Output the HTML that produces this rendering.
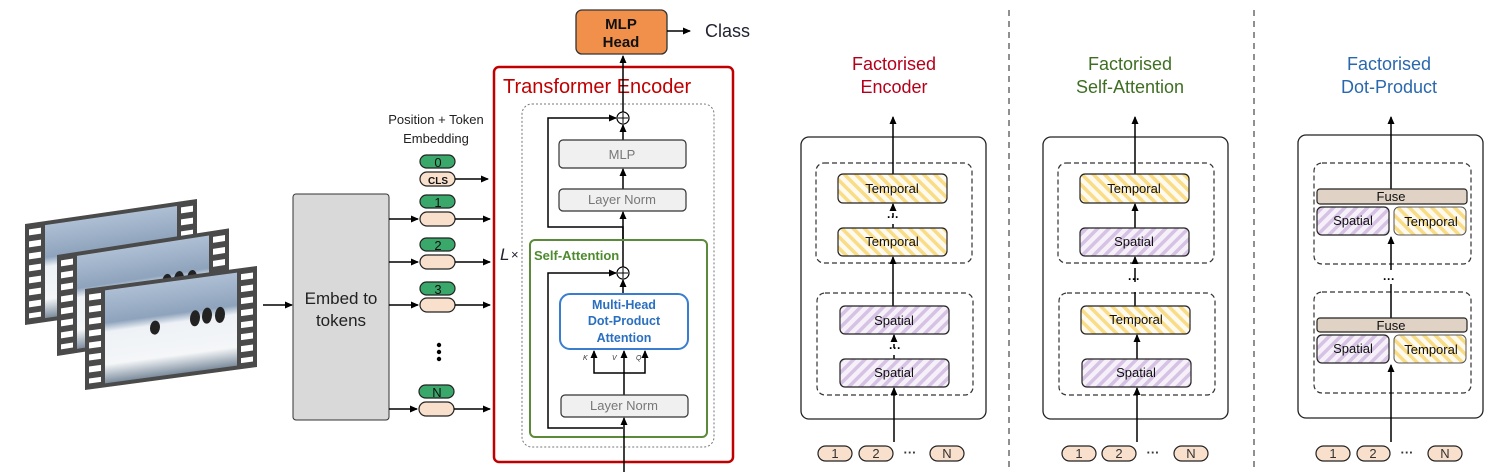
<!DOCTYPE html>
<html><head><meta charset="utf-8"><style>html,body{margin:0;padding:0;background:#fff}svg{display:block}text{font-family:"Liberation Sans",sans-serif}</style></head>
<body>
<svg width="1511" height="472" viewBox="0 0 1511 472" xmlns="http://www.w3.org/2000/svg">
<defs>
<marker id="a" markerWidth="8" markerHeight="8" refX="7" refY="4" orient="auto" markerUnits="userSpaceOnUse"><path d="M0,0.5 L8,4 L0,7.5 z" fill="#000"/></marker>
<pattern id="py" width="8" height="8" patternUnits="userSpaceOnUse" patternTransform="rotate(-45)"><rect width="8" height="8" fill="#fffaf0"/><rect width="3.5" height="8" fill="#f9dc86"/></pattern>
<pattern id="pp" width="8" height="8" patternUnits="userSpaceOnUse" patternTransform="rotate(45)"><rect width="8" height="8" fill="#f6f1f8"/><rect width="3.5" height="8" fill="#d6c2e4"/></pattern>
<linearGradient id="sky" x1="0" y1="0" x2="0" y2="1"><stop offset="0" stop-color="#aebfd4"/><stop offset="0.35" stop-color="#8ea3bc"/><stop offset="0.45" stop-color="#eef2f6"/><stop offset="0.8" stop-color="#f4f6f8"/><stop offset="1" stop-color="#7d8d9e"/></linearGradient>
<g id="film">
<rect x="0" y="0" width="172" height="101" fill="#4a4a4a"/>
<rect x="20" y="4" width="132" height="93" fill="url(#sky)"/>
<g fill="#fff">
<rect x="4" y="6" width="12" height="6"/><rect x="4" y="18" width="12" height="6"/><rect x="4" y="30" width="12" height="6"/><rect x="4" y="42" width="12" height="6"/><rect x="4" y="54" width="12" height="6"/><rect x="4" y="66" width="12" height="6"/><rect x="4" y="78" width="12" height="6"/><rect x="4" y="90" width="12" height="5"/>
<rect x="156" y="6" width="12" height="6"/><rect x="156" y="18" width="12" height="6"/><rect x="156" y="30" width="12" height="6"/><rect x="156" y="42" width="12" height="6"/><rect x="156" y="54" width="12" height="6"/><rect x="156" y="66" width="12" height="6"/><rect x="156" y="78" width="12" height="6"/><rect x="156" y="90" width="12" height="5"/>
</g>
<g fill="#222"><ellipse cx="70" cy="48" rx="5" ry="7"/><ellipse cx="110" cy="44" rx="5" ry="8"/><ellipse cx="122" cy="43" rx="5" ry="8"/><ellipse cx="135" cy="44" rx="5" ry="8"/></g>
</g>
</defs>

<use href="#film" transform="matrix(1,-0.145,0,1,25,224)"/>
<use href="#film" transform="matrix(1,-0.155,0,1,57,255)"/>
<use href="#film" transform="matrix(1,-0.134,0,1,85,289)"/>

<line x1="263" y1="305" x2="292" y2="305" stroke="#000" stroke-width="1.6" marker-end="url(#a)"/>
<rect x="293" y="194" width="96" height="226" rx="3" fill="#d9d9d9" stroke="#333" stroke-width="1"/>
<text x="341" y="304" font-size="17" text-anchor="middle" fill="#222">Embed to</text>
<text x="341" y="326" font-size="17" text-anchor="middle" fill="#222">tokens</text>

<text x="436" y="124" font-size="13" text-anchor="middle" fill="#222">Position + Token</text>
<text x="436" y="143" font-size="13" text-anchor="middle" fill="#222">Embedding</text>

<g stroke="#222" stroke-width="1.2">
<rect x="420" y="155" width="35" height="13" rx="6.5" fill="#3aa86a"/>
<rect x="420" y="172" width="35" height="14" rx="7" fill="#f9e0cc"/>
<rect x="420" y="195" width="35" height="13" rx="6.5" fill="#3aa86a"/>
<rect x="420" y="212" width="35" height="14" rx="7" fill="#f9e0cc"/>
<rect x="420" y="238" width="35" height="13" rx="6.5" fill="#3aa86a"/>
<rect x="420" y="255" width="35" height="14" rx="7" fill="#f9e0cc"/>
<rect x="420" y="282" width="35" height="13" rx="6.5" fill="#3aa86a"/>
<rect x="420" y="298" width="35" height="14" rx="7" fill="#f9e0cc"/>
<rect x="419" y="385" width="35" height="13" rx="6.5" fill="#3aa86a"/>
<rect x="419" y="402" width="35" height="14" rx="7" fill="#f9e0cc"/>
</g>
<g font-size="13" text-anchor="middle" fill="#111">
<text x="438" y="167">0</text><text x="438" y="207">1</text><text x="438" y="250">2</text><text x="438" y="294">3</text><text x="437" y="397">N</text>
<text x="438" y="184" font-size="10" font-weight="bold">CLS</text>
</g>
<g stroke="#000" stroke-width="1.5" marker-end="url(#a)">
<line x1="455" y1="179" x2="488" y2="179"/>
<line x1="389" y1="219" x2="418" y2="219"/><line x1="455" y1="219" x2="490" y2="219"/>
<line x1="389" y1="262" x2="418" y2="262"/><line x1="455" y1="262" x2="490" y2="262"/>
<line x1="389" y1="305" x2="418" y2="305"/><line x1="455" y1="305" x2="490" y2="305"/>
<line x1="389" y1="409" x2="417" y2="409"/><line x1="454" y1="409" x2="490" y2="409"/>
</g>
<g fill="#000"><circle cx="439" cy="345" r="2.2"/><circle cx="439" cy="352" r="2.2"/><circle cx="439" cy="359" r="2.2"/></g>

<rect x="576" y="10" width="91" height="44" rx="6" fill="#f0904b" stroke="#333" stroke-width="1.3"/>
<text x="621" y="29" font-size="15" font-weight="bold" text-anchor="middle" fill="#111">MLP</text>
<text x="621" y="47" font-size="15" font-weight="bold" text-anchor="middle" fill="#111">Head</text>
<line x1="667" y1="31" x2="690" y2="31" stroke="#000" stroke-width="1.5" marker-end="url(#a)"/>
<text x="705" y="37" font-size="18" fill="#223">Class</text>

<rect x="494" y="67" width="239" height="395" rx="5" fill="none" stroke="#c00000" stroke-width="2.5"/>
<text x="503" y="93" font-size="20" fill="#c00000">Transformer  Encoder</text>
<rect x="522" y="104" width="192" height="343" rx="10" fill="none" stroke="#777" stroke-width="1" stroke-dasharray="2,2"/>
<text x="500" y="260" font-size="17" font-style="italic" fill="#223">L</text><text x="511" y="259" font-size="13" fill="#223">×</text>

<line x1="623" y1="112" x2="623" y2="56" stroke="#000" stroke-width="1.5" marker-end="url(#a)"/>
<circle cx="623" cy="118" r="6" fill="#fff" stroke="#000" stroke-width="1.2"/>
<path d="M618,118h10M623,113v10" stroke="#000" stroke-width="1"/>
<polyline points="623,240 623,227 548,227 548,118 616,118" fill="none" stroke="#000" stroke-width="1.5" marker-end="url(#a)"/>
<line x1="623" y1="140" x2="623" y2="125" stroke="#000" stroke-width="1.5" marker-end="url(#a)"/>
<rect x="559" y="140" width="127" height="28" rx="4" fill="#f0f0f0" stroke="#333" stroke-width="1.2"/>
<text x="622" y="159" font-size="13" text-anchor="middle" fill="#777">MLP</text>
<line x1="623" y1="189" x2="623" y2="169" stroke="#000" stroke-width="1.5" marker-end="url(#a)"/>
<rect x="559" y="189" width="127" height="22" rx="4" fill="#f0f0f0" stroke="#333" stroke-width="1.2"/>
<text x="622" y="204" font-size="13" text-anchor="middle" fill="#777">Layer Norm</text>
<line x1="623" y1="267" x2="623" y2="212" stroke="#000" stroke-width="1.5" marker-end="url(#a)"/>

<rect x="530" y="240" width="177" height="197" rx="5" fill="none" stroke="#5a8a3a" stroke-width="2"/>
<text x="534" y="260" font-size="13" font-weight="bold" fill="#4e8a2e">Self-Attention</text>
<circle cx="623" cy="273" r="6" fill="#fff" stroke="#000" stroke-width="1.2"/>
<path d="M618,273h10M623,268v10" stroke="#000" stroke-width="1"/>
<polyline points="623,428 548,428 548,273 616,273" fill="none" stroke="#000" stroke-width="1.5" marker-end="url(#a)"/>
<line x1="623" y1="294" x2="623" y2="280" stroke="#000" stroke-width="1.5" marker-end="url(#a)"/>
<rect x="560" y="294" width="128" height="55" rx="10" fill="#fff" stroke="#3a7dd0" stroke-width="2"/>
<g font-size="12.5" font-weight="bold" text-anchor="middle" fill="#2a6fc0">
<text x="624" y="309">Multi-Head</text><text x="624" y="325">Dot-Product</text><text x="624" y="342">Attention</text></g>
<polyline points="624,395 624,373 594,373 594,351" fill="none" stroke="#000" stroke-width="1.5" marker-end="url(#a)"/>
<polyline points="624,373 645,373 645,351" fill="none" stroke="#000" stroke-width="1.5" marker-end="url(#a)"/>
<line x1="624" y1="373" x2="624" y2="351" stroke="#000" stroke-width="1.5" marker-end="url(#a)"/>
<g font-size="7" font-style="italic" fill="#333"><text x="583" y="360">K</text><text x="612" y="360">V</text><text x="636" y="360">Q</text></g>
<rect x="561" y="395" width="127" height="22" rx="4" fill="#f0f0f0" stroke="#333" stroke-width="1.2"/>
<text x="624" y="410" font-size="13" text-anchor="middle" fill="#777">Layer Norm</text>
<line x1="624" y1="472" x2="624" y2="418" stroke="#000" stroke-width="1.5" marker-end="url(#a)"/>

<line x1="1009" y1="10" x2="1009" y2="472" stroke="#555" stroke-width="1.3" stroke-dasharray="6,5"/>
<line x1="1254" y1="10" x2="1254" y2="472" stroke="#555" stroke-width="1.3" stroke-dasharray="6,5"/>

<g font-size="18" text-anchor="middle">
<text x="894" y="70" fill="#b3001b">Factorised</text><text x="894" y="93" fill="#b3001b">Encoder</text>
<text x="1130" y="70" fill="#3f6e23">Factorised</text><text x="1130" y="93" fill="#3f6e23">Self-Attention</text>
<text x="1389" y="70" fill="#2a68ad">Factorised</text><text x="1389" y="93" fill="#2a68ad">Dot-Product</text>
</g>

<rect x="801" y="137" width="185" height="282" rx="8" fill="none" stroke="#222" stroke-width="1.3"/>
<rect x="816" y="163" width="156" height="100" rx="8" fill="none" stroke="#333" stroke-width="1.2" stroke-dasharray="5,3"/>
<rect x="817" y="293" width="156" height="102" rx="8" fill="none" stroke="#333" stroke-width="1.2" stroke-dasharray="5,3"/>
<line x1="893" y1="174" x2="893" y2="117" stroke="#000" stroke-width="1.5" marker-end="url(#a)"/>
<line x1="893" y1="306" x2="893" y2="257" stroke="#000" stroke-width="1.5" marker-end="url(#a)"/>
<line x1="893" y1="228" x2="893" y2="204" stroke="#000" stroke-width="1.5" marker-end="url(#a)" stroke-dasharray="4,7"/>
<line x1="894" y1="359" x2="894" y2="335" stroke="#000" stroke-width="1.5" marker-end="url(#a)" stroke-dasharray="4,7"/>
<line x1="894" y1="442" x2="894" y2="388" stroke="#000" stroke-width="1.5" marker-end="url(#a)"/>
<text x="893" y="221" font-size="12" font-weight="bold" text-anchor="middle">···</text>
<text x="895" y="352" font-size="12" font-weight="bold" text-anchor="middle">···</text>
<rect x="838" y="174" width="109" height="29" rx="5" fill="url(#py)" stroke="#222" stroke-width="1.2"/>
<rect x="838" y="228" width="109" height="28" rx="5" fill="url(#py)" stroke="#222" stroke-width="1.2"/>
<rect x="840" y="306" width="109" height="28" rx="5" fill="url(#pp)" stroke="#222" stroke-width="1.2"/>
<rect x="840" y="359" width="109" height="28" rx="5" fill="url(#pp)" stroke="#222" stroke-width="1.2"/>
<g font-size="13" text-anchor="middle" fill="#111">
<text x="892" y="193">Temporal</text><text x="892" y="246">Temporal</text><text x="894" y="325">Spatial</text><text x="894" y="377">Spatial</text></g>

<rect x="1043" y="137" width="185" height="282" rx="8" fill="none" stroke="#222" stroke-width="1.3"/>
<rect x="1058" y="163" width="156" height="100" rx="8" fill="none" stroke="#333" stroke-width="1.2" stroke-dasharray="5,3"/>
<rect x="1059" y="293" width="156" height="102" rx="8" fill="none" stroke="#333" stroke-width="1.2" stroke-dasharray="5,3"/>
<line x1="1135" y1="174" x2="1135" y2="117" stroke="#000" stroke-width="1.5" marker-end="url(#a)"/>
<line x1="1135" y1="228" x2="1135" y2="204" stroke="#000" stroke-width="1.5" marker-end="url(#a)"/>
<line x1="1135" y1="306" x2="1135" y2="257" stroke="#000" stroke-width="1.5" marker-end="url(#a)" stroke-dasharray="14,10"/>
<line x1="1137" y1="359" x2="1137" y2="335" stroke="#000" stroke-width="1.5" marker-end="url(#a)"/>
<line x1="1137" y1="442" x2="1137" y2="388" stroke="#000" stroke-width="1.5" marker-end="url(#a)"/>
<text x="1134" y="283" font-size="12" font-weight="bold" text-anchor="middle">···</text>
<rect x="1080" y="174" width="109" height="29" rx="5" fill="url(#py)" stroke="#222" stroke-width="1.2"/>
<rect x="1080" y="228" width="109" height="28" rx="5" fill="url(#pp)" stroke="#222" stroke-width="1.2"/>
<rect x="1081" y="306" width="109" height="28" rx="5" fill="url(#py)" stroke="#222" stroke-width="1.2"/>
<rect x="1082" y="359" width="109" height="28" rx="5" fill="url(#pp)" stroke="#222" stroke-width="1.2"/>
<g font-size="13" text-anchor="middle" fill="#111">
<text x="1134" y="193">Temporal</text><text x="1134" y="246">Spatial</text><text x="1136" y="324">Temporal</text><text x="1136" y="377">Spatial</text></g>

<rect x="1298" y="135" width="185" height="283" rx="8" fill="none" stroke="#222" stroke-width="1.3"/>
<rect x="1314" y="163" width="157" height="101" rx="8" fill="none" stroke="#333" stroke-width="1.2" stroke-dasharray="5,3"/>
<rect x="1314" y="292" width="157" height="101" rx="8" fill="none" stroke="#333" stroke-width="1.2" stroke-dasharray="5,3"/>
<line x1="1391" y1="189" x2="1391" y2="117" stroke="#000" stroke-width="1.5" marker-end="url(#a)"/>
<line x1="1391" y1="318" x2="1391" y2="237" stroke="#000" stroke-width="1.5" marker-end="url(#a)" stroke-dasharray="34,14,40"/>
<line x1="1391" y1="442" x2="1391" y2="365" stroke="#000" stroke-width="1.5" marker-end="url(#a)"/>
<text x="1389" y="283" font-size="12" font-weight="bold" text-anchor="middle">···</text>
<rect x="1317" y="189" width="150" height="15" rx="3" fill="#e0d2c4" stroke="#222" stroke-width="1.2"/>
<rect x="1317" y="207" width="72" height="28" rx="5" fill="url(#pp)" stroke="#222" stroke-width="1.2"/>
<rect x="1394" y="207" width="72" height="28" rx="5" fill="url(#py)" stroke="#555" stroke-width="1"/>
<rect x="1317" y="318" width="150" height="14" rx="3" fill="#e0d2c4" stroke="#222" stroke-width="1.2"/>
<rect x="1317" y="335" width="72" height="28" rx="5" fill="url(#pp)" stroke="#222" stroke-width="1.2"/>
<rect x="1394" y="335" width="72" height="28" rx="5" fill="url(#py)" stroke="#555" stroke-width="1"/>
<g font-size="13" text-anchor="middle" fill="#111">
<text x="1391" y="201">Fuse</text><text x="1353" y="225">Spatial</text><text x="1431" y="226">Temporal</text>
<text x="1391" y="330">Fuse</text><text x="1353" y="353">Spatial</text><text x="1431" y="354">Temporal</text></g>

<g stroke="#222" stroke-width="1.2" fill="#f9e0cc">
<rect x="818" y="446" width="34" height="15" rx="7.5"/><rect x="859" y="446" width="34" height="15" rx="7.5"/><rect x="930" y="446" width="34" height="15" rx="7.5"/>
<rect x="1062" y="446" width="34" height="15" rx="7.5"/><rect x="1102" y="446" width="34" height="15" rx="7.5"/><rect x="1174" y="446" width="34" height="15" rx="7.5"/>
<rect x="1316" y="446" width="34" height="15" rx="7.5"/><rect x="1357" y="446" width="33" height="15" rx="7.5"/><rect x="1428" y="446" width="34" height="15" rx="7.5"/>
</g>
<g font-size="13" text-anchor="middle" fill="#333">
<text x="835" y="458">1</text><text x="876" y="458">2</text><text x="910" y="457" font-weight="bold">···</text><text x="947" y="458">N</text>
<text x="1079" y="458">1</text><text x="1119" y="458">2</text><text x="1153" y="457" font-weight="bold">···</text><text x="1191" y="458">N</text>
<text x="1333" y="458">1</text><text x="1373" y="458">2</text><text x="1407" y="457" font-weight="bold">···</text><text x="1445" y="458">N</text>
</g>
</svg>
</body></html>
